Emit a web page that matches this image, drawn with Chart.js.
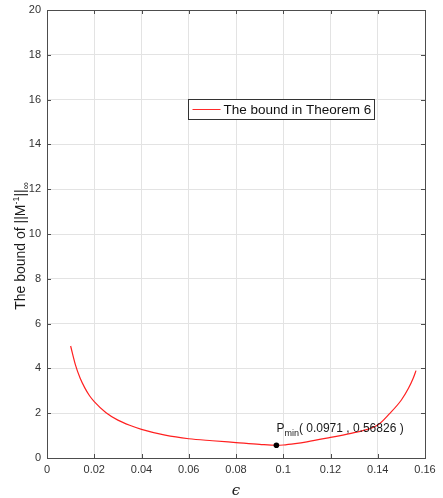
<!DOCTYPE html>
<html>
<head>
<meta charset="utf-8">
<script src="https://cdn.jsdelivr.net/npm/chart.js@4/dist/chart.umd.min.js"></script>
<style>
  html, body { margin: 0; padding: 0; background: #fff; }
  #wrap { width: 443px; height: 498px; }
</style>
</head>
<body>
<div id="wrap"><canvas id="chart" width="443" height="498"></canvas></div>
<script>
// values
var epsValues = [0.01, 0.012, 0.014, 0.016, 0.018, 0.02, 0.025, 0.03, 0.035, 0.04, 0.05, 0.06, 0.07, 0.08, 0.09, 0.0971, 0.1, 0.105, 0.11, 0.12, 0.13, 0.14, 0.145, 0.15, 0.153, 0.155, 0.1562];
var boundValues = [5.0, 4.17, 3.57, 3.13, 2.78, 2.52, 2.02, 1.69, 1.46, 1.28, 1.02, 0.86, 0.77, 0.69, 0.61, 0.56826, 0.58, 0.64, 0.72, 0.92, 1.13, 1.47, 1.98, 2.59, 3.11, 3.56, 3.9];
var xTicks = [0, 0.02, 0.04, 0.06, 0.08, 0.1, 0.12, 0.14, 0.16];
var yTicks = [0, 2, 4, 6, 8, 10, 12, 14, 16, 18, 20];
var minPoint = [0.0971, 0.56826];
var legendLabel = 'The bound in Theorem 6';

var points = epsValues.map(function (x, i) { return { x: x, y: boundValues[i] }; });
var FONT = '"Liberation Sans", Arial, sans-serif';

var decorPlugin = {
    id: 'decor',
    beforeDatasetsDraw: function (chart) {
        var ctx = chart.ctx, a = chart.chartArea;
        var xs = chart.scales.x, ys = chart.scales.y;
        ctx.save();
        ctx.strokeStyle = '#4d4d4d';
        ctx.lineWidth = 1;
        // inward ticks on all four sides
        xTicks.forEach(function (t) {
            var px = Math.round(xs.getPixelForValue(t)) + 0.5;
            ctx.beginPath();
            ctx.moveTo(px, a.bottom); ctx.lineTo(px, a.bottom - 4);
            ctx.moveTo(px, a.top); ctx.lineTo(px, a.top + 4);
            ctx.stroke();
        });
        yTicks.forEach(function (t) {
            var py = Math.round(ys.getPixelForValue(t)) + 0.5;
            ctx.beginPath();
            ctx.moveTo(a.left, py); ctx.lineTo(a.left + 4, py);
            ctx.moveTo(a.right, py); ctx.lineTo(a.right - 4, py);
            ctx.stroke();
        });
        ctx.strokeRect(Math.round(a.left) + 0.5, Math.round(a.top) + 0.5,
            Math.round(a.right - a.left), Math.round(a.bottom - a.top));
        ctx.restore();
    },
    afterDatasetsDraw: function (chart) {
        var ctx = chart.ctx, a = chart.chartArea;
        var xs = chart.scales.x, ys = chart.scales.y;
        ctx.save();

        // minimum point and its label
        var mx = xs.getPixelForValue(minPoint[0]);
        var my = ys.getPixelForValue(minPoint[1]);
        ctx.fillStyle = '#000';
        ctx.beginPath();
        ctx.arc(mx, my, 2.8, 0, Math.PI * 2);
        ctx.fill();
        ctx.fillStyle = '#1a1a1a';
        ctx.textBaseline = 'alphabetic';
        ctx.textAlign = 'left';
        ctx.font = '12px ' + FONT;
        var tx = mx, ty = my - 13;
        ctx.fillText('P', tx, ty);
        var w = ctx.measureText('P').width;
        ctx.font = '9px ' + FONT;
        ctx.fillText('min', tx + w, ty + 4);
        w += ctx.measureText('min').width;
        ctx.font = '12px ' + FONT;
        ctx.fillText('( ' + minPoint[0] + ' , ' + minPoint[1] + ' )', tx + w, ty);

        // legend box
        var lx = 188.5, ly = 99.5, lw = 186, lh = 20;
        ctx.fillStyle = '#fff';
        ctx.fillRect(lx, ly, lw, lh);
        ctx.strokeStyle = '#333';
        ctx.lineWidth = 1;
        ctx.strokeRect(lx, ly, lw, lh);
        ctx.strokeStyle = '#ff2a2a';
        ctx.beginPath();
        ctx.moveTo(lx + 4, ly + lh / 2);
        ctx.lineTo(lx + 32, ly + lh / 2);
        ctx.stroke();
        ctx.fillStyle = '#111';
        ctx.font = '13.5px ' + FONT;
        ctx.textBaseline = 'middle';
        ctx.fillText(legendLabel, lx + 35, ly + lh / 2 + 1);

        // x axis title
        ctx.font = 'italic 15px "DejaVu Serif", serif';
        ctx.textAlign = 'center';
        ctx.textBaseline = 'alphabetic';
        ctx.fillStyle = '#222';
        ctx.fillText('\u03f5', (a.left + a.right) / 2, 495);

        // y axis title
        ctx.translate(25, 246);
        ctx.rotate(-Math.PI / 2);
        ctx.fillStyle = '#1a1a1a';
        var parts = [
            ['The bound of ||M', 14, 0],
            ['-1', 9, -6],
            ['||', 14, 0],
            ['\u221e', 10, 4]
        ];
        var total = 0;
        parts.forEach(function (p) { ctx.font = p[1] + 'px ' + FONT; total += ctx.measureText(p[0]).width; });
        var cx = -total / 2;
        ctx.textAlign = 'left';
        parts.forEach(function (p) {
            ctx.font = p[1] + 'px ' + FONT;
            ctx.fillText(p[0], cx, p[2]);
            cx += ctx.measureText(p[0]).width;
        });
        ctx.restore();
    }
};

new Chart(document.getElementById('chart').getContext('2d'), {
    type: 'line',
    data: {
        datasets: [{
            label: legendLabel,
            data: points,
            borderColor: '#ff2020',
            borderWidth: 1.2,
            pointRadius: 0,
            fill: false,
            cubicInterpolationMode: 'monotone'
        }]
    },
    options: {
        responsive: false,
        animation: false,
        layout: { padding: { top: 10, right: 18, left: 0, bottom: 0 } },
        plugins: {
            legend: { display: false },
            tooltip: { enabled: false }
        },
        scales: {
            x: {
                type: 'linear',
                min: 0,
                max: 0.16,
                afterBuildTicks: function (axis) { axis.ticks = xTicks.map(function (v) { return { value: v }; }); },
                afterFit: function (axis) {
                    axis.height = 40;
                    axis.paddingLeft = 0;
                    axis.paddingRight = 0;
                },
                grid: { color: '#e3e3e3', drawTicks: false },
                border: { display: false },
                ticks: {
                    color: '#333',
                    font: { size: 11, family: FONT },
                    padding: 5,
                    maxRotation: 0,
                    callback: function (v) { return String(v); }
                }
            },
            y: {
                min: 0,
                max: 20,
                afterBuildTicks: function (axis) { axis.ticks = yTicks.map(function (v) { return { value: v }; }); },
                afterFit: function (axis) {
                    axis.width = 47;
                    axis.paddingTop = 0;
                    axis.paddingBottom = 0;
                },
                grid: { color: '#e3e3e3', drawTicks: false },
                border: { display: false },
                ticks: {
                    color: '#333',
                    font: { size: 11, family: FONT },
                    padding: 6
                }
            }
        }
    },
    plugins: [decorPlugin]
});
</script>
</body>
</html>
